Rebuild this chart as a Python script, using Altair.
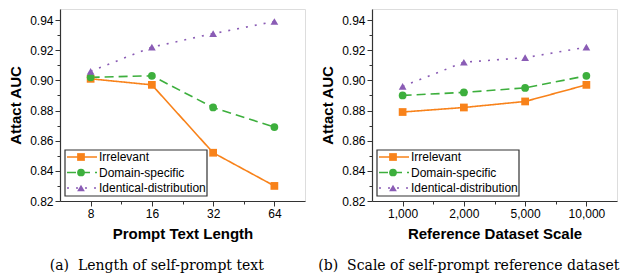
import json
import altair as alt
import pandas as pd

series = ["Irrelevant", "Domain-specific", "Identical-distribution"]
colors = ["#F8821A", "#3DAF3D", "#8A5CB5"]
dashes = [[1, 0], [9, 5], [2, 7]]
shapes = ["square", "circle", "triangle-up"]

x_labels_a = ["8", "16", "32", "64"]
a_irrelevant = [0.901, 0.897, 0.852, 0.830]
a_domain = [0.902, 0.903, 0.882, 0.869]
a_identical = [0.906, 0.922, 0.931, 0.939]

x_labels_b = ["1,000", "2,000", "5,000", "10,000"]
b_irrelevant = [0.879, 0.882, 0.886, 0.897]
b_domain = [0.890, 0.892, 0.895, 0.903]
b_identical = [0.896, 0.912, 0.915, 0.922]

y_major = [0.82, 0.84, 0.86, 0.88, 0.90, 0.92, 0.94]
y_minor = [0.83, 0.85, 0.87, 0.89, 0.91, 0.93]

W, H = 245, 192
Y_DOMAIN = [0.82, 0.9473]
SANS = "Liberation Sans"


def panel(xlabels, irr, dom, ide, xtitle, caption):
    rows = []
    for s, vals in zip(series, [irr, dom, ide]):
        for i, v in enumerate(vals):
            rows.append({"series": s, "idx": i + 1, "value": v})
    df = pd.DataFrame(rows)
    label_expr = json.dumps(xlabels).replace('"', "'") + "[datum.value - 1]"

    xscale = alt.Scale(domain=[0.5, 4.5], nice=False, zero=False)
    yscale = alt.Scale(domain=Y_DOMAIN, nice=False, zero=False)
    color = alt.Color("series:N", scale=alt.Scale(domain=series, range=colors), legend=None)
    dash = alt.StrokeDash("series:N", scale=alt.Scale(domain=series, range=dashes), legend=None)
    shape = alt.Shape("series:N", scale=alt.Scale(domain=series, range=shapes), legend=None)

    base = alt.Chart(df)
    major = base.mark_line(strokeWidth=1.6).encode(
        x=alt.X("idx:Q", scale=xscale, axis=alt.Axis(
            orient="bottom", values=[1, 2, 3, 4], labelExpr=label_expr, grid=False,
            tickSize=5, tickColor="#333", domainColor="#333", domainWidth=1.2,
            labelFont=SANS, labelFontSize=12, labelColor="#000", labelPadding=2,
            title=xtitle, titleFont=SANS, titleFontSize=15, titleFontWeight="bold",
            titleColor="#000", titlePadding=7)),
        y=alt.Y("value:Q", scale=yscale, axis=alt.Axis(
            orient="left", values=y_major, format=".2f", grid=False,
            tickSize=5, tickColor="#333", domainColor="#333", domainWidth=1.2,
            labelFont=SANS, labelFontSize=12, labelColor="#000", labelPadding=2,
            title="Attact AUC", titleFont=SANS, titleFontSize=15, titleFontWeight="bold",
            titleColor="#000", titlePadding=6)),
        color=color, strokeDash=dash,
    )
    points = base.mark_point(filled=True, size=60, opacity=1).encode(
        x=alt.X("idx:Q", scale=xscale, axis=None),
        y=alt.Y("value:Q", scale=yscale, axis=None),
        color=color, shape=shape,
    )
    minor = base.mark_line(opacity=0).encode(
        x=alt.X("idx:Q", scale=xscale, axis=alt.Axis(
            orient="bottom", values=[1.5, 2.5, 3.5], labels=False, grid=False, title=None,
            tickSize=3, tickColor="#333", domain=False)),
        y=alt.Y("value:Q", scale=yscale, axis=alt.Axis(
            orient="left", values=y_minor, labels=False, grid=False, title=None,
            tickSize=3, tickColor="#333", domain=False)),
        detail="series:N",
    )
    main = alt.layer(major, points, minor).resolve_axis(x="independent", y="independent")

    leg_df = pd.DataFrame({"series": series, "row": [0, 1, 2]})
    lscale = alt.Scale(domain=[0, 2], range=[H - 44, H - 13], nice=False, zero=False)
    lbase = alt.Chart(leg_df)
    box = alt.Chart(pd.DataFrame({"a": [0]})).mark_rect(
        fill="white", stroke="#333", strokeWidth=1.2).encode(
        x=alt.value(5), x2=alt.value(147), y=alt.value(H - 51), y2=alt.value(H - 5))
    lrule = lbase.mark_rule(strokeWidth=1.6).encode(
        x=alt.value(7), x2=alt.value(37),
        y=alt.Y("row:Q", scale=lscale, axis=None),
        color=color, strokeDash=dash)
    lpoint = lbase.mark_point(filled=True, size=60, opacity=1).encode(
        x=alt.value(21), y=alt.Y("row:Q", scale=lscale, axis=None),
        color=color, shape=shape)
    ltext = lbase.mark_text(align="left", baseline="middle", font=SANS, fontSize=12,
                            color="#000").encode(
        x=alt.value(39), y=alt.Y("row:Q", scale=lscale, axis=None), text="series:N")
    legend = alt.layer(box, lrule, lpoint, ltext)

    return alt.layer(main, legend).resolve_scale(y="independent", x="independent").properties(
        width=W, height=H,
        title=alt.TitleParams(caption, orient="bottom", font="DejaVu Serif", fontSize=14,
                              fontWeight="normal", color="#000", offset=18, anchor="middle",
                              frame="bounds"),
    )


pa = panel(x_labels_a, a_irrelevant, a_domain, a_identical, "Prompt Text Length",
           "(a)\u00a0\u00a0Length of self-prompt text")
pb = panel(x_labels_b, b_irrelevant, b_domain, b_identical, "Reference Dataset Scale",
           "(b)\u00a0\u00a0Scale of self-prompt reference dataset")

chart = alt.hconcat(pa, pb, spacing=11).properties(
    padding={"left": 0, "top": 0, "right": 0, "bottom": 0}
).configure_view(stroke="#555", strokeWidth=1.2).configure(background="white")

chart.save("out.html", embed_options={"renderer": "svg", "actions": False})
